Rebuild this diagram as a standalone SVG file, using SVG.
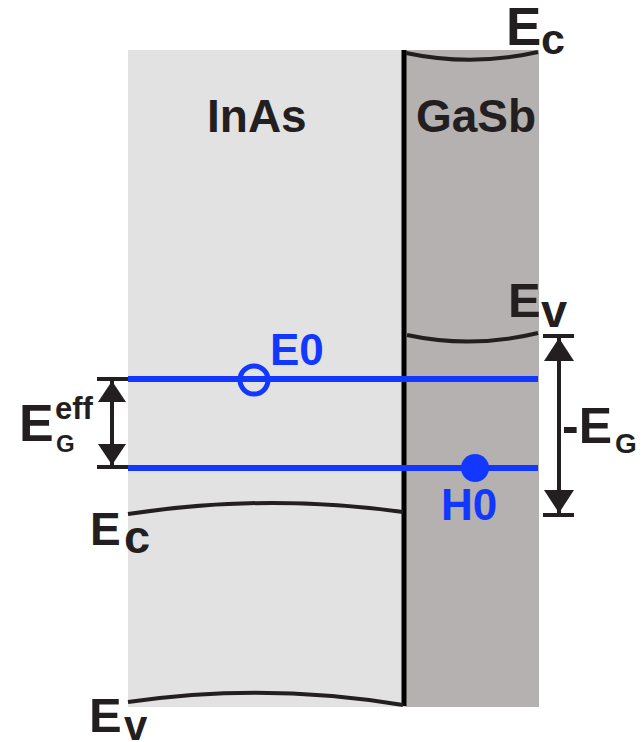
<svg xmlns="http://www.w3.org/2000/svg" width="644" height="742" viewBox="0 0 644 742">
<style>
.lbl{font-family:"Liberation Sans",Arial,sans-serif;font-weight:bold;fill:#231f20}
.blbl{font-family:"Liberation Sans",Arial,sans-serif;font-weight:bold;fill:#1238ff}
.band{fill:none;stroke:#231f20;stroke-width:4}
.lvl{stroke:#1238ff;stroke-width:6}
.bar{stroke:#231f20;stroke-width:4}
.shaft{stroke:#231f20;stroke-width:4;fill:none}
</style>
<defs>
<marker id="ahL" viewBox="0 -14 21 28" refX="21" refY="0" markerWidth="21" markerHeight="28" markerUnits="userSpaceOnUse" orient="auto-start-reverse">
<path d="M0,-14 L21,0 L0,14 z" fill="#231f20"/>
</marker>
<marker id="ahR" viewBox="0 -15 23 30" refX="23" refY="0" markerWidth="23" markerHeight="30" markerUnits="userSpaceOnUse" orient="auto-start-reverse">
<path d="M0,-15 L23,0 L0,15 z" fill="#231f20"/>
</marker>
</defs>
<g id="inas">
<rect x="128" y="50" width="277" height="657" fill="#e2e2e2"/>
<text class="lbl" x="207" y="132" font-size="46">InAs</text>
</g>
<g id="gasb">
<rect x="405" y="50" width="134" height="657" fill="#b5b1b0"/>
<text class="lbl" x="416" y="132" font-size="46">GaSb</text>
</g>
<g id="interface">
<line x1="404" y1="50" x2="404" y2="706" stroke="#000" stroke-width="5"/>
</g>
<g id="gasb-ec">
<path class="band" d="M406,53 Q472,67 538,52"/>
<text class="lbl" x="506" y="45" font-size="53">E</text>
<text class="lbl" x="541" y="54" font-size="43">c</text>
</g>
<g id="gasb-ev">
<path class="band" d="M407,335 Q472,349 538,333"/>
<text class="lbl" x="508" y="317" font-size="49">E</text>
<text class="lbl" x="541" y="327" font-size="47">v</text>
</g>
<g id="inas-ec">
<path class="band" d="M128,514 Q265,493 403,512"/>
<text class="lbl" x="90" y="545" font-size="46">E</text>
<text class="lbl" x="124" y="553" font-size="47">c</text>
</g>
<g id="inas-ev">
<path class="band" d="M128,702 Q265,682 403,705"/>
<text class="lbl" x="89" y="732" font-size="49">E</text>
<text class="lbl" x="124" y="740" font-size="42">v</text>
</g>
<g id="E0">
<line class="lvl" x1="128" y1="379" x2="538" y2="379"/>
<circle cx="254" cy="380" r="14" fill="none" stroke="#1238ff" stroke-width="5"/>
<text class="blbl" x="270" y="365" font-size="44">E0</text>
</g>
<g id="H0">
<line class="lvl" x1="128" y1="468" x2="538" y2="468"/>
<circle cx="475" cy="468" r="14" fill="#1238ff"/>
<text class="blbl" x="441" y="520" font-size="44">H0</text>
</g>
<g id="connectors">
<line class="bar" x1="97" y1="379" x2="128" y2="379"/>
<line class="bar" x1="97" y1="467" x2="128" y2="467"/>
<line class="shaft" x1="112" y1="381" x2="112" y2="465" marker-start="url(#ahL)" marker-end="url(#ahL)"/>
<line class="bar" x1="543" y1="336" x2="574" y2="336"/>
<line class="bar" x1="543" y1="515" x2="574" y2="515"/>
<line class="shaft" x1="559" y1="338" x2="559" y2="513" marker-start="url(#ahR)" marker-end="url(#ahR)"/>
</g>
<g id="eg-eff-label">
<text class="lbl" x="19" y="441" font-size="52">E</text>
<text class="lbl" x="55" y="419" font-size="31">eff</text>
<text class="lbl" x="56" y="452" font-size="24">G</text>
</g>
<g id="eg-label">
<text class="lbl" x="562" y="443" font-size="50">-E</text>
<text class="lbl" x="615" y="453" font-size="28">G</text>
</g>
</svg>
